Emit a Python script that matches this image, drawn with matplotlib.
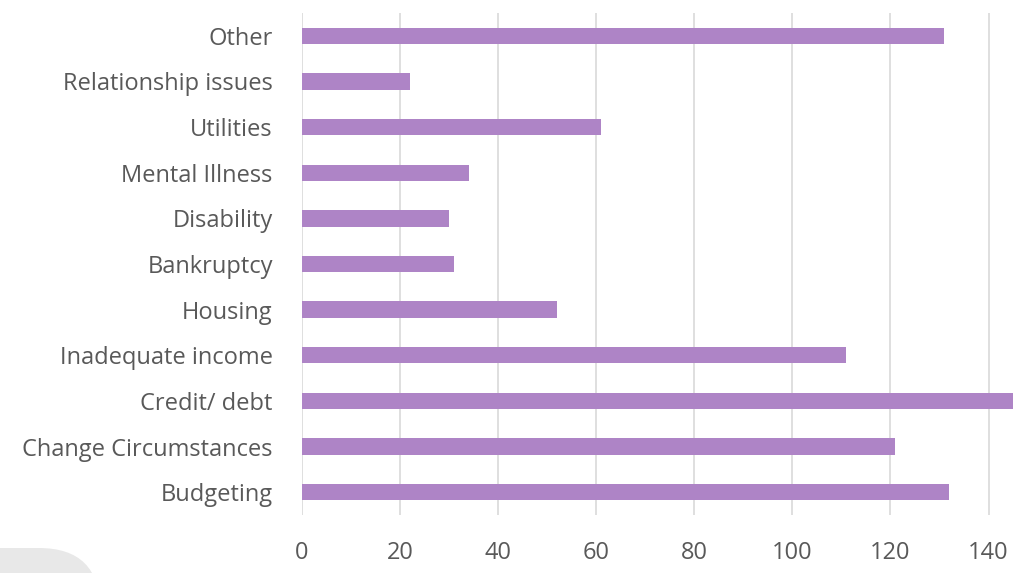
import matplotlib
matplotlib.use("Agg")
import matplotlib.pyplot as plt
from matplotlib.patches import FancyBboxPatch

categories = ["Budgeting", "Change Circumstances", "Credit/ debt", "Inadequate income",
              "Housing", "Bankruptcy", "Disability", "Mental Illness", "Utilities",
              "Relationship issues", "Other"]
values = [132, 121, 145, 111, 52, 31, 30, 34, 61, 22, 131]
xticks = [0, 20, 40, 60, 80, 100, 120, 140]

plt.rcParams['font.family'] = ['Open Sans', 'DejaVu Sans']

fig = plt.figure(figsize=(10.18, 5.73), dpi=100)
# light gray blob in the bottom-left corner
blob = FancyBboxPatch((-100 / 1018, 1 - 700 / 573), 200 / 1018, 152 / 573,
                      boxstyle="round,pad=0,rounding_size=0.06",
                      transform=fig.transFigure, facecolor="#e8e8e8",
                      edgecolor="none", mutation_aspect=1018 / 573)
fig.patches.append(blob)

ax = fig.add_axes([302 / 1018, 1 - 515 / 573, 1 - 302 / 1018, (515 - 13) / 573])
ax.barh(range(len(categories)), values, height=0.36, color="#ae84c6", zorder=3)
ax.set_yticks(range(len(categories)))
ax.set_yticklabels(categories)
ax.set_xticks(xticks)
ax.set_xlim(0, 146)
ax.set_ylim(-0.5, len(categories) - 0.5)
ax.grid(axis="x", color="#d9d9d9", linewidth=1.2, zorder=0)
for s in ax.spines.values():
    s.set_visible(False)
ax.tick_params(axis="both", length=0, labelsize=17, colors="#595959")
ax.tick_params(axis="y", pad=21)
ax.tick_params(axis="x", pad=19)
ax.set_facecolor("none")

fig.savefig("out.png", dpi=100)
